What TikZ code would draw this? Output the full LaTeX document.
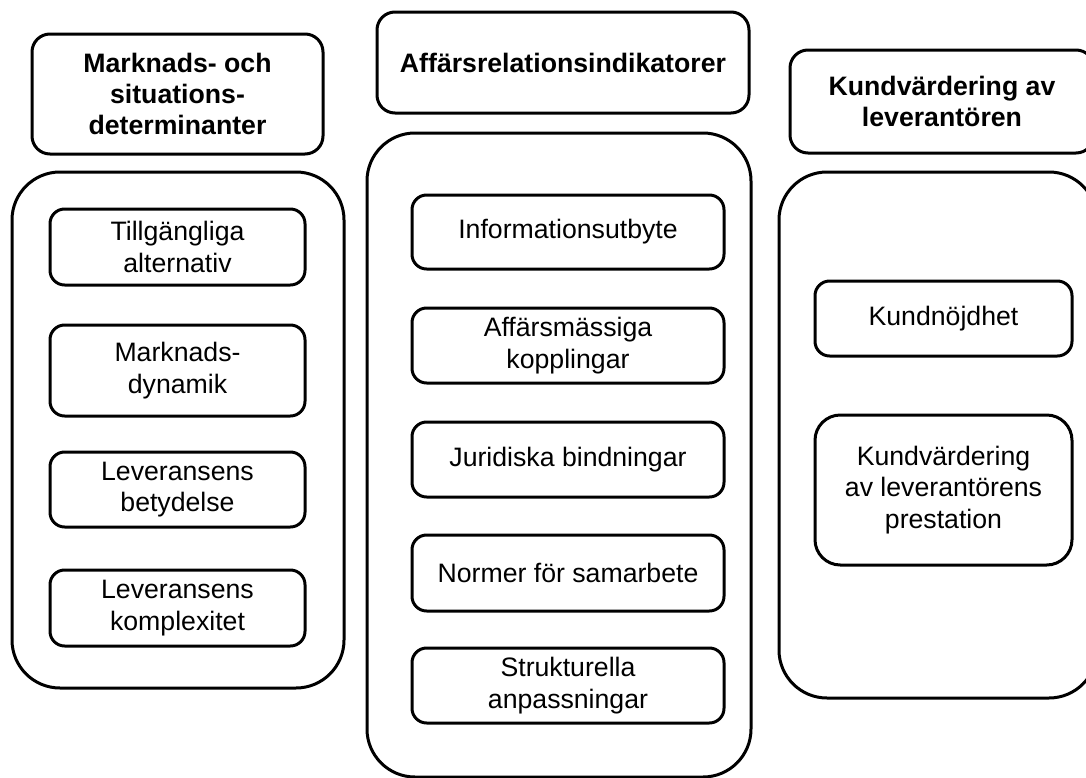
\documentclass[tikz,border=0pt]{standalone}
\usepackage{fontspec}
\setmainfont{Liberation Sans}
\begin{document}
\begin{tikzpicture}[x=0.75pt, y=-0.75pt,
  frame/.style={draw, line width=2.25pt, inner sep=0pt, outer sep=0pt,
    align=center, font=\fontsize{20}{23.5}\selectfont},
  head/.style={frame, rounded corners=13.5pt,
    font=\bfseries\fontsize{20}{23.5}\selectfont},
  group/.style={frame, rounded corners=36pt},
  item/.style={frame, rounded corners=11pt},
  bigitem/.style={frame, rounded corners=19pt}]
\useasboundingbox (0,0) rectangle (1086,778);
\clip (0,0) rectangle (1086,778);

% column 1: market and situational determinants
\node[head, minimum width=218.25pt, minimum height=90pt] (h1) at (177.5,94)
  {Marknads- och\\situations-\\determinanter};
\node[group, minimum width=249pt, minimum height=387pt] (g1) at (178,430) {};
\node[item, minimum width=191.25pt, minimum height=57pt] (l1) at (177.5,247)
  {Tillgängliga\\alternativ};
\node[item, minimum width=191.25pt, minimum height=68.25pt] (l2) at (177.5,370.5)
  {Marknads-\\dynamik};
\node[item, minimum width=191.25pt, minimum height=56.25pt] (l3) at (177.5,489.5)
  {Leveransens\\betydelse};
\node[item, minimum width=191.25pt, minimum height=57pt] (l4) at (177.5,608)
  {Leveransens\\komplexitet};

% column 2: business relationship indicators
\node[head, minimum width=279pt, minimum height=75.75pt] (h2) at (563,62.5)
  {Affärsrelationsindikatorer};
\node[group, minimum width=288pt, minimum height=483pt] (g2) at (559,455) {};
\node[item, minimum width=234pt, minimum height=55.5pt] (m1) at (568,232)
  {Informationsutbyte};
\node[item, minimum width=234pt, minimum height=56.25pt] (m2) at (568,345.5)
  {Affärsmässiga\\kopplingar};
\node[item, minimum width=234pt, minimum height=56.25pt] (m3) at (568,459.5)
  {Juridiska bindningar};
\node[item, minimum width=234pt, minimum height=57pt] (m4) at (568,573)
  {Normer för samarbete};
\node[item, minimum width=234pt, minimum height=56.25pt] (m5) at (568,685.5)
  {Strukturella\\anpassningar};

% column 3: customer evaluation of the supplier
\node[head, minimum width=228pt, minimum height=77.25pt] (h3) at (942,101.5)
  {Kundvärdering av\\leverantören};
\node[group, minimum width=238.5pt, minimum height=394.5pt] (g3) at (938,435) {};
\node[item, minimum width=192.75pt, minimum height=56.25pt] (r1) at (943.5,318.5)
  {Kundnöjdhet};
\node[bigitem, minimum width=192.75pt, minimum height=112.5pt] (r2) at (943.5,490)
  {Kundvärdering\\av leverantörens\\prestation};
\end{tikzpicture}
\end{document}
